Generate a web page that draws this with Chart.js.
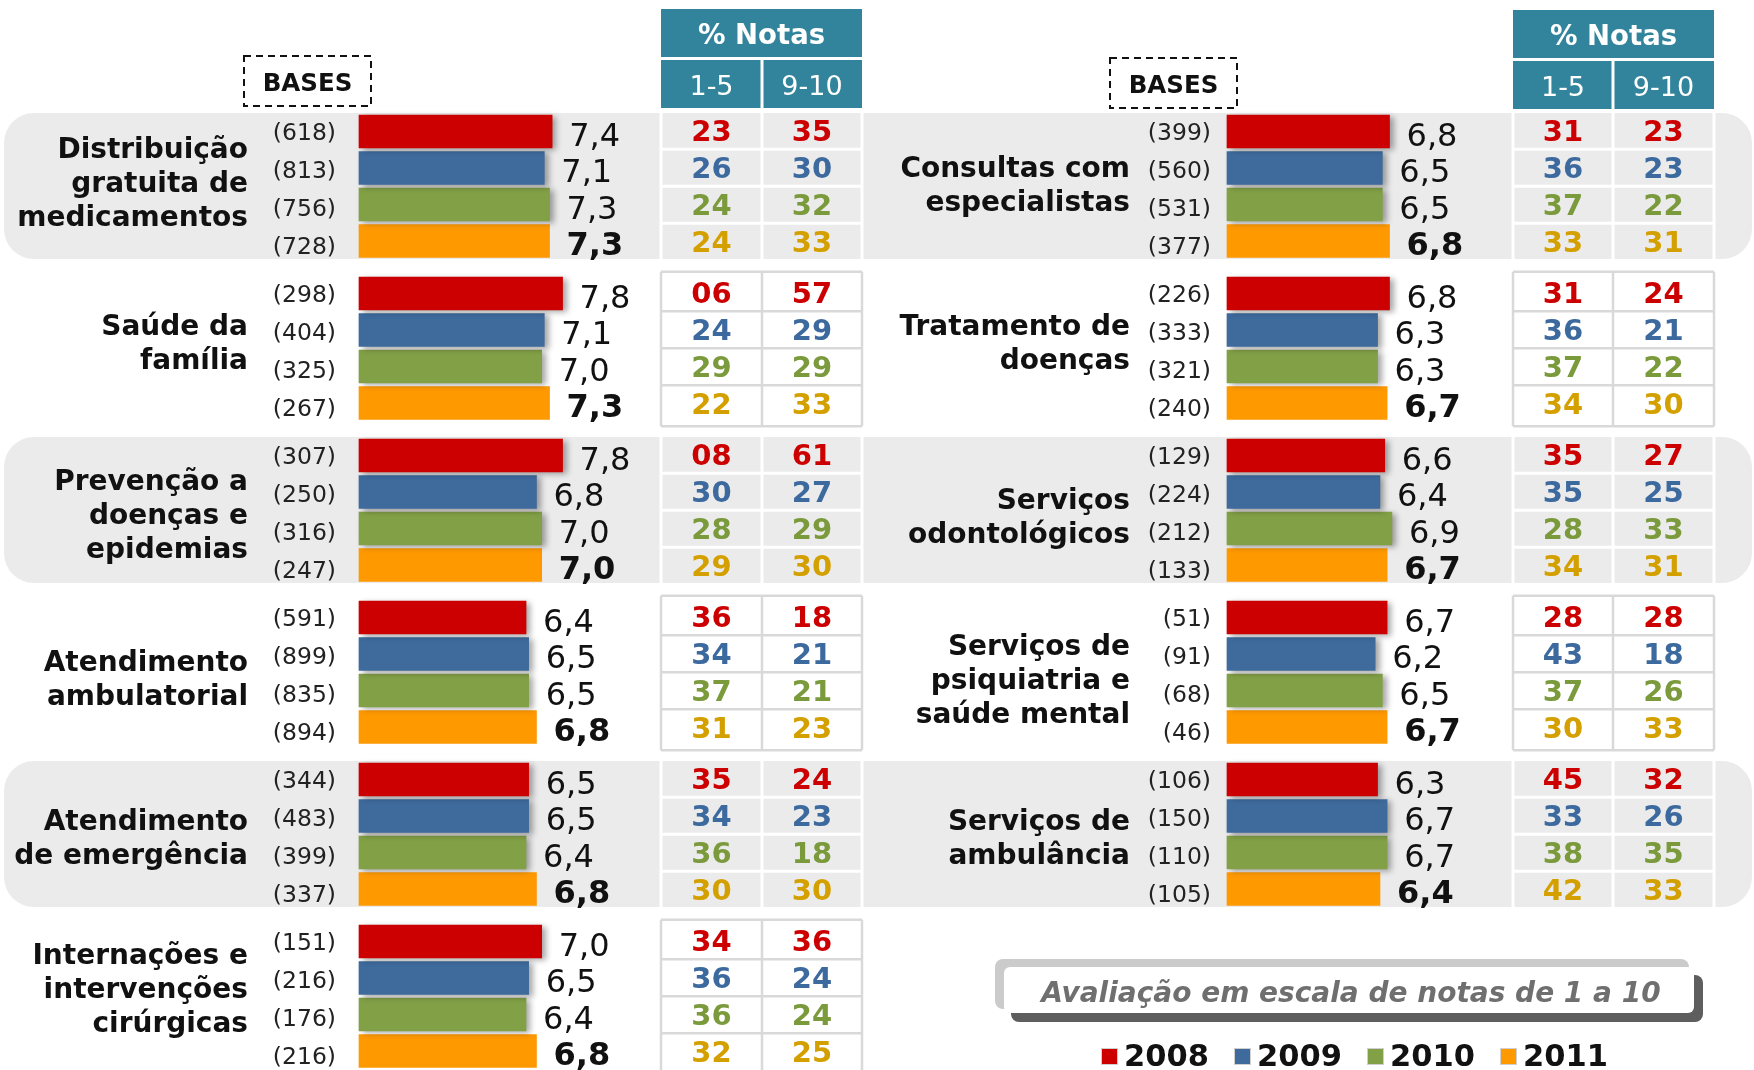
<!DOCTYPE html>
<html lang="pt-BR">
<head>
<meta charset="utf-8">
<title>Avaliação dos serviços de saúde</title>
<script src="https://cdn.jsdelivr.net/npm/chart.js@4.4.1/dist/chart.umd.min.js"></script>
<style>
  html, body { margin: 0; padding: 0; background: #ffffff; }
  #wrap { position: relative; width: 1754px; height: 1070px; overflow: hidden; }
</style>
</head>
<body>
<div id="wrap"><canvas id="myChart" width="1754" height="1070"></canvas></div>
<script>
const years = ["2008", "2009", "2010", "2011"];

// left column of services
const leftCategories = [
  ["Distribuição", "gratuita de", "medicamentos"],
  ["Saúde da", "família"],
  ["Prevenção a", "doenças e", "epidemias"],
  ["Atendimento", "ambulatorial"],
  ["Atendimento", "de emergência"],
  ["Internações e", "intervenções", "cirúrgicas"]
];
const leftBases = [
  [618, 813, 756, 728],
  [298, 404, 325, 267],
  [307, 250, 316, 247],
  [591, 899, 835, 894],
  [344, 483, 399, 337],
  [151, 216, 176, 216]
];
const leftMeans = [
  [7.4, 7.1, 7.3, 7.3],
  [7.8, 7.1, 7.0, 7.3],
  [7.8, 6.8, 7.0, 7.0],
  [6.4, 6.5, 6.5, 6.8],
  [6.5, 6.5, 6.4, 6.8],
  [7.0, 6.5, 6.4, 6.8]
];
const leftLow = [   // % notas 1-5
  [23, 26, 24, 24],
  [6, 24, 29, 22],
  [8, 30, 28, 29],
  [36, 34, 37, 31],
  [35, 34, 36, 30],
  [34, 36, 36, 32]
];
const leftHigh = [  // % notas 9-10
  [35, 30, 32, 33],
  [57, 29, 29, 33],
  [61, 27, 29, 30],
  [18, 21, 21, 23],
  [24, 23, 18, 30],
  [36, 24, 24, 25]
];

// right column of services
const rightCategories = [
  ["Consultas com", "especialistas"],
  ["Tratamento de", "doenças"],
  ["Serviços", "odontológicos"],
  ["Serviços de", "psiquiatria e", "saúde mental"],
  ["Serviços de", "ambulância"]
];
const rightBases = [
  [399, 560, 531, 377],
  [226, 333, 321, 240],
  [129, 224, 212, 133],
  [51, 91, 68, 46],
  [106, 150, 110, 105]
];
const rightMeans = [
  [6.8, 6.5, 6.5, 6.8],
  [6.8, 6.3, 6.3, 6.7],
  [6.6, 6.4, 6.9, 6.7],
  [6.7, 6.2, 6.5, 6.7],
  [6.3, 6.7, 6.7, 6.4]
];
const rightLow = [
  [31, 36, 37, 33],
  [31, 36, 37, 34],
  [35, 35, 28, 34],
  [28, 43, 37, 30],
  [45, 33, 38, 42]
];
const rightHigh = [
  [23, 23, 22, 31],
  [24, 21, 22, 30],
  [27, 25, 33, 31],
  [28, 18, 26, 33],
  [32, 26, 35, 33]
];

const shadedGroups = [0, 2, 4];

const barColors = ["#cc0000", "#3e6a9c", "#82a046", "#ff9900"];
const numberColors = ["#cc0000", "#3d6a9e", "#7a9a3c", "#d4a000"];
const FONT = "'DejaVu Sans', Verdana, sans-serif";

const W = 1754, H = 1070;
const ROW_TOP = 131.5, ROW_STEP = 36.5, GROUP_STEP = 162;
const TABLE_STEP = 37, BASES_STEP = 38, LINE_STEP = 34;

const panels = [
  {
    axis: "xl", categories: leftCategories, bases: leftBases, means: leftMeans,
    low: leftLow, high: leftHigh, zero: 359, unit: 26.1,
    labelRight: 248, basesRight: 336, table: [661, 762, 862],
    basesBox: [244, 56, 127, 50], headerTop: 9,
    labelNudge: [-2, -3.5, 6.5, 8, 5.5, -5.5]
  },
  {
    axis: "xr", categories: rightCategories, bases: rightBases, means: rightMeans,
    low: rightLow, high: rightHigh, zero: 1227, unit: 23.9,
    labelRight: 1130, basesRight: 1211, table: [1513, 1613, 1714],
    basesBox: [1110, 58, 127, 50], headerTop: 10,
    labelNudge: [0, -3.5, 8, 9, 5.5]
  }
];

// row position on the y scale, one unit per bar, groups spaced a bit wider
function rowSlot(g, r) {
  return g * GROUP_STEP / ROW_STEP + r;
}

function fmt(v) {
  return v.toFixed(1).replace(".", ",");
}

function buildDatasets() {
  const sets = [];
  panels.forEach(p => {
    years.forEach((yr, r) => {
      sets.push({
        label: yr,
        xAxisID: p.axis,
        yAxisID: "y",
        data: p.means.map((m, g) => ({ x: m[r], y: rowSlot(g, r) })),
        backgroundColor: barColors[r],
        borderWidth: 0,
        barThickness: 33,
        grouped: false,
        shadow: r < 3
      });
    });
  });
  return sets;
}

function groupRows(chart, g) {
  const y = chart.scales.y;
  return [0, 1, 2, 3].map(r => y.getPixelForValue(rowSlot(g, r)));
}

function groupMid(chart, g) {
  const c = groupRows(chart, g);
  return (c[0] + c[3]) / 2;
}

function drawBackground(chart) {
  const ctx = chart.ctx;
  ctx.save();

  // gray bands behind alternate groups
  ctx.fillStyle = "#ebebeb";
  shadedGroups.forEach(g => {
    const c = groupRows(chart, g);
    ctx.beginPath();
    ctx.roundRect(4, c[0] - 18.5, W - 6, c[3] - c[0] + 36.5, 30);
    ctx.fill();
  });

  panels.forEach(p => {
    const [x0, x1, x2] = p.table;

    // table grid
    p.means.forEach((_, g) => {
      const shaded = shadedGroups.includes(g);
      const c = groupRows(chart, g);
      const mid = groupMid(chart, g);
      const top = shaded ? c[0] - 18.5 : mid - 76.5;
      const bottom = shaded ? c[3] + 18 : mid + 78;
      ctx.strokeStyle = shaded ? "#ffffff" : "#d9d9d9";
      ctx.lineWidth = shaded ? 3 : 2.5;
      ctx.beginPath();
      [x0, x1, x2].forEach(x => { ctx.moveTo(x, top); ctx.lineTo(x, bottom); });
      for (let r = -1; r <= 1; r++) {
        const my = mid + r * TABLE_STEP;
        ctx.moveTo(x0, my); ctx.lineTo(x2, my);
      }
      if (!shaded) {
        ctx.moveTo(x0, top); ctx.lineTo(x2, top);
        ctx.moveTo(x0, bottom); ctx.lineTo(x2, bottom);
      }
      ctx.stroke();
    });

    // "% Notas" header
    const ht = p.headerTop;
    ctx.fillStyle = "#31849b";
    ctx.fillRect(x0, ht, x2 - x0, 48);
    ctx.fillRect(x0, ht + 51, x1 - x0 - 1.5, 48);
    ctx.fillRect(x1 + 1.5, ht + 51, x2 - x1 - 1.5, 48);
    ctx.fillStyle = "#ffffff";
    ctx.textAlign = "center";
    ctx.textBaseline = "middle";
    ctx.font = "bold 27.5px " + FONT;
    ctx.fillText("% Notas", (x0 + x2) / 2, ht + 27.5);
    ctx.font = "27px " + FONT;
    ctx.fillText("1-5", (x0 + x1) / 2, ht + 78.5);
    ctx.fillText("9-10", (x1 + x2) / 2, ht + 78.5);

    // dashed BASES box
    const [bx, by, bw, bh] = p.basesBox;
    ctx.strokeStyle = "#111111";
    ctx.lineWidth = 2;
    ctx.setLineDash([7, 5]);
    ctx.strokeRect(bx, by, bw, bh);
    ctx.setLineDash([]);
    ctx.fillStyle = "#111111";
    ctx.font = "bold 24.5px " + FONT;
    ctx.fillText("BASES", bx + bw / 2, by + bh / 2 + 3.5);
  });

  ctx.restore();
}

function drawTexts(chart) {
  const ctx = chart.ctx;
  ctx.save();
  ctx.textBaseline = "middle";

  panels.forEach((p, pi) => {
    const [x0, x1, x2] = p.table;

    // service names
    p.categories.forEach((lines, g) => {
      const mid = groupMid(chart, g) + p.labelNudge[g];
      ctx.fillStyle = "#111111";
      ctx.textAlign = "right";
      ctx.font = "bold 28px " + FONT;
      lines.forEach((line, i) => {
        ctx.fillText(line, p.labelRight, mid + (i - (lines.length - 1) / 2) * LINE_STEP);
      });
    });

    years.forEach((yr, r) => {
      const meta = chart.getDatasetMeta(pi * 4 + r);
      meta.data.forEach((bar, g) => {
        const mid = groupMid(chart, g);

        ctx.fillStyle = "#222222";
        ctx.textAlign = "right";
        ctx.font = "23.5px " + FONT;
        ctx.fillText("(" + p.bases[g][r] + ")", p.basesRight, mid + (r - 1.5) * BASES_STEP + 5);

        ctx.fillStyle = "#111111";
        ctx.textAlign = "left";
        ctx.font = (r === 3 ? "bold " : "") + "32px " + FONT;
        ctx.fillText(fmt(p.means[g][r]), bar.x + 17, bar.y + 6);

        const ty = mid + (r - 1.5) * TABLE_STEP + 3;
        ctx.fillStyle = numberColors[r];
        ctx.textAlign = "center";
        ctx.font = "bold 29px " + FONT;
        ctx.fillText(String(p.low[g][r]).padStart(2, "0"), (x0 + x1) / 2, ty);
        ctx.fillText(String(p.high[g][r]).padStart(2, "0"), (x1 + x2) / 2, ty);
      });
    });
  });

  // note box
  ctx.fillStyle = "#5e5e5e";
  ctx.beginPath(); ctx.roundRect(1011, 975, 692, 47, 8); ctx.fill();
  ctx.fillStyle = "#cbcbcb";
  ctx.beginPath(); ctx.roundRect(995, 959, 694, 50, 8); ctx.fill();
  ctx.fillStyle = "#ffffff";
  ctx.beginPath(); ctx.roundRect(1004, 967, 690, 46, 6); ctx.fill();
  ctx.fillStyle = "#6f6f6f";
  ctx.textAlign = "center";
  ctx.font = "italic bold 28px " + FONT;
  ctx.fillText("Avaliação em escala de notas de 1 a 10", 1351, 995);

  // year legend
  const legendX = [1102, 1235, 1368, 1501];
  years.forEach((yr, r) => {
    ctx.fillStyle = "#d0d0d0";
    ctx.fillRect(legendX[r] - 1, 1048, 17, 17);
    ctx.fillStyle = barColors[r];
    ctx.fillRect(legendX[r], 1049, 15, 15);
    ctx.fillStyle = "#111111";
    ctx.textAlign = "left";
    ctx.font = "bold 30.5px " + FONT;
    ctx.fillText(yr, legendX[r] + 22, 1058);
  });

  ctx.restore();
}

const layoutPlugin = {
  id: "layoutPlugin",
  beforeDraw: drawBackground,
  beforeDatasetDraw(chart, args) {
    chart.ctx.save();
    if (args.meta._dataset.shadow) {
      chart.ctx.shadowColor = "rgba(0,0,0,0.35)";
      chart.ctx.shadowOffsetX = 4;
      chart.ctx.shadowOffsetY = 2;
      chart.ctx.shadowBlur = 6;
    }
  },
  afterDatasetDraw(chart) {
    chart.ctx.restore();
  },
  afterDatasetsDraw: drawTexts
};

function renderChart() {
  const ctx = document.getElementById("myChart");
  const scales = {
    y: {
      type: "linear",
      reverse: true,
      offset: false,
      min: -ROW_TOP / ROW_STEP,
      max: (H - ROW_TOP) / ROW_STEP,
      display: false
    }
  };
  panels.forEach(p => {
    scales[p.axis] = {
      type: "linear",
      position: "bottom",
      min: -p.zero / p.unit,
      max: (W - p.zero) / p.unit,
      display: false
    };
  });

  new Chart(ctx, {
    type: "bar",
    data: { datasets: buildDatasets() },
    options: {
      indexAxis: "y",
      responsive: false,
      devicePixelRatio: 1,
      animation: false,
      layout: { padding: 0 },
      plugins: {
        legend: { display: false },
        tooltip: { enabled: false }
      },
      scales: scales
    },
    plugins: [layoutPlugin]
  });
}

renderChart();
</script>
</body>
</html>
